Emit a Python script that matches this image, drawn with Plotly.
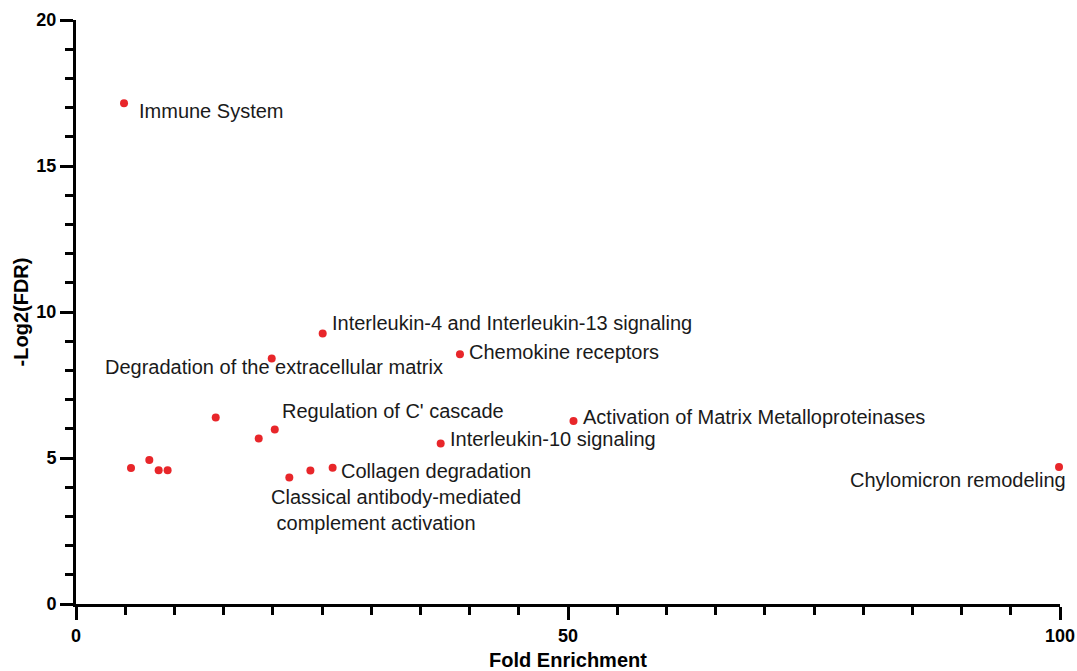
import plotly.graph_objects as go

# Reactome pathway enrichment: fold enrichment vs -log2(FDR)
fold_enrichment = [4.88, 5.59, 7.45, 8.40, 9.31, 14.20, 18.57, 19.89, 20.20,
                   21.68, 23.82, 25.07, 26.08, 37.06, 39.02, 50.56, 99.90]
neg_log2_fdr = [17.15, 4.66, 4.93, 4.58, 4.58, 6.39, 5.67, 8.41, 5.98,
                4.33, 4.57, 9.26, 4.67, 5.50, 8.55, 6.27, 4.69]
pathways = ["Immune System", "", "", "", "", "", "",
            "Degradation of the extracellular matrix",
            "Regulation of C' cascade",
            "Classical antibody-mediated<br> complement activation",
            "",
            "Interleukin-4 and Interleukin-13 signaling",
            "Collagen degradation",
            "Interleukin-10 signaling",
            "Chemokine receptors",
            "Activation of Matrix Metalloproteinases",
            "Chylomicron remodeling"]

# label placement relative to each point (pixels): xanchor, xshift, yshift, align
label_style = {
    "Immune System": ("left", 13, -8, "left"),
    "Degradation of the extracellular matrix": ("center", 2, -9, "center"),
    "Regulation of C' cascade": ("left", 5, 18, "left"),
    "Classical antibody-mediated<br> complement activation": ("left", -20, -32, "left"),
    "Interleukin-4 and Interleukin-13 signaling": ("left", 7, 11, "left"),
    "Collagen degradation": ("left", 6, -3, "left"),
    "Interleukin-10 signaling": ("left", 7, 4, "left"),
    "Chemokine receptors": ("left", 7, 2, "left"),
    "Activation of Matrix Metalloproteinases": ("left", 7, 4, "left"),
    "Chylomicron remodeling": ("right", 9, -13, "right"),
}

FONT = "Liberation Sans, Arial, sans-serif"

fig = go.Figure()
fig.add_trace(go.Scatter(
    x=fold_enrichment, y=neg_log2_fdr, mode="markers",
    marker=dict(color="#E8262A", size=8, line=dict(width=0)),
    cliponaxis=False, hoverinfo="x+y",
))

for xv, yv, name in zip(fold_enrichment, neg_log2_fdr, pathways):
    if not name:
        continue
    xa, xs, ys, al = label_style[name]
    fig.add_annotation(
        x=xv, y=yv, text=name, showarrow=False,
        xanchor=xa, yanchor="middle", xshift=xs, yshift=ys, align=al,
        font=dict(family=FONT, size=20, color="#1a1a1a"),
    )

axis_common = dict(
    automargin=False,
    showgrid=False, zeroline=False, showline=True, linecolor="black", linewidth=3,
    ticks="outside", tickwidth=3, tickcolor="black", ticklen=13,
    tickfont=dict(family=FONT, size=18, color="black", weight="bold"),
)

fig.update_layout(
    width=1077, height=671,
    margin=dict(l=76, r=17, t=20, b=67),
    paper_bgcolor="white", plot_bgcolor="white",
    showlegend=False,
    xaxis=dict(
        range=[0, 100], tick0=0, dtick=50,
        minor=dict(dtick=5, ticks="outside", ticklen=8, tickwidth=3, tickcolor="black"),
        title=dict(text="Fold Enrichment", standoff=10,
                   font=dict(family=FONT, size=20, color="black", weight="bold")),
        **axis_common,
    ),
    yaxis=dict(
        range=[0, 20], tick0=0, dtick=5,
        minor=dict(dtick=1, ticks="outside", ticklen=8, tickwidth=3, tickcolor="black"),
        title=dict(text="-Log2(FDR)", standoff=3,
                   font=dict(family=FONT, size=20, color="black", weight="bold")),
        **axis_common,
    ),
)

fig.write_html("out.html")
